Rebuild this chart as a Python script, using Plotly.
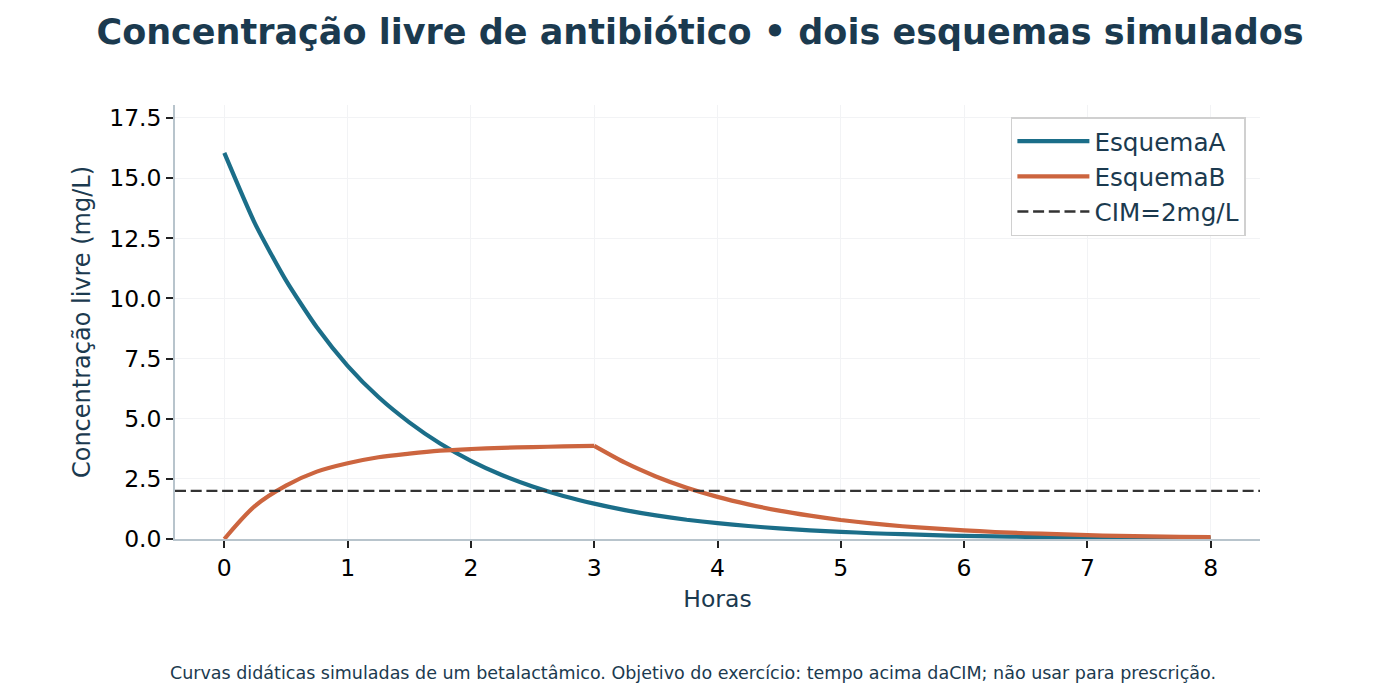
import plotly.graph_objects as go

# tempo em horas (passo de 0.25 h)
horas = [i * 0.25 for i in range(33)]

# concentracao livre (mg/L)
esquema_a = [16.05, 13.1, 10.75, 8.8, 7.2, 5.9, 4.85, 3.97, 3.25, 2.66, 2.18, 1.79,
             1.47, 1.2, 0.98, 0.8, 0.66, 0.54, 0.44, 0.36, 0.3, 0.24, 0.2, 0.16,
             0.13, 0.11, 0.09, 0.075, 0.06, 0.05, 0.04, 0.035, 0.03]
esquema_b = [0.0, 1.38, 2.22, 2.8, 3.15, 3.4, 3.55, 3.67, 3.74, 3.79, 3.82, 3.85,
             3.87, 3.17, 2.6, 2.13, 1.75, 1.44, 1.18, 0.97, 0.79, 0.65, 0.53, 0.44,
             0.36, 0.29, 0.24, 0.2, 0.16, 0.13, 0.11, 0.09, 0.075]
cim = 2.0
fim_infusao = 12  # indice de t=3 h (fim da infusao do esquema B)

titulo = "Concentração livre de antibiótico • dois esquemas simulados"
nota = "Curvas didáticas simuladas de um betalactâmico. Objetivo do exercício: tempo acima daCIM; não usar para prescrição."

cor_texto = "#1b3a4f"
cor_a = "#1b6e89"
cor_b = "#cc653f"
fonte = "DejaVu Sans"

fig = go.Figure()
fig.add_trace(go.Scatter(x=horas, y=esquema_a, mode="lines", name="EsquemaA",
                         line=dict(color=cor_a, width=4.2, shape="spline", smoothing=0.6)))
# esquema B: infusao + eliminacao (duas partes para manter o vertice em t=3)
fig.add_trace(go.Scatter(x=horas[:fim_infusao + 1], y=esquema_b[:fim_infusao + 1], mode="lines",
                         name="EsquemaB", legendgroup="b",
                         line=dict(color=cor_b, width=4.2, shape="spline", smoothing=0.9)))
fig.add_trace(go.Scatter(x=horas[fim_infusao:], y=esquema_b[fim_infusao:], mode="lines",
                         name="EsquemaB", legendgroup="b", showlegend=False,
                         line=dict(color=cor_b, width=4.2, shape="spline", smoothing=0.6)))
fig.add_trace(go.Scatter(x=[-0.4, 8.4], y=[cim, cim], mode="lines", name="CIM=2mg/L",
                         line=dict(color="#333333", width=2.4, dash="11px,4.7px")))

fig.update_layout(
    width=1400, height=700,
    paper_bgcolor="white", plot_bgcolor="white",
    margin=dict(l=167, r=148, t=97, b=169),
    font=dict(family=fonte, size=24, color=cor_texto),
    title=dict(text="<b>" + titulo + "</b>", x=0.4943, xanchor="center", y=0.966, yanchor="middle",
               font=dict(size=35, color=cor_texto)),
    legend=dict(x=0.987, y=0.972, xanchor="right", yanchor="top",
                bgcolor="white", bordercolor="#d0d0d0", borderwidth=1.5,
                itemwidth=72, font=dict(size=24.7, color=cor_texto), tracegroupgap=0),
    showlegend=True,
)
fig.update_xaxes(range=[-0.4, 8.4], tickvals=list(range(9)), ticks="outside", ticklen=7,
                 tickwidth=1.5, tickcolor="#222222", showline=True, linecolor="#b8c4cc", linewidth=1.5,
                 showgrid=True, gridcolor="#f2f3f5", zeroline=False,
                 tickfont=dict(size=23.5, color="black"),
                 title=dict(text="Horas", font=dict(size=23.5, color=cor_texto), standoff=10))
fig.update_yaxes(range=[0, 18.04], tickvals=[0, 2.5, 5, 7.5, 10, 12.5, 15, 17.5],
                 ticktext=["0.0", "2.5", "5.0", "7.5", "10.0", "12.5", "15.0", "17.5"],
                 ticks="outside", ticklen=7, tickwidth=1.5, tickcolor="#222222",
                 showline=True, linecolor="#b8c4cc", linewidth=1.5,
                 showgrid=True, gridcolor="#f2f3f5", zeroline=False,
                 tickfont=dict(size=23.5, color="black"),
                 title=dict(text="Concentração livre (mg/L)", font=dict(size=24, color=cor_texto), standoff=12))

fig.add_annotation(text=nota, xref="paper", yref="paper", x=0.4774, y=-0.308,
                   xanchor="center", yanchor="middle", showarrow=False,
                   font=dict(size=17.5, color=cor_texto))

fig.write_html("out.html")
